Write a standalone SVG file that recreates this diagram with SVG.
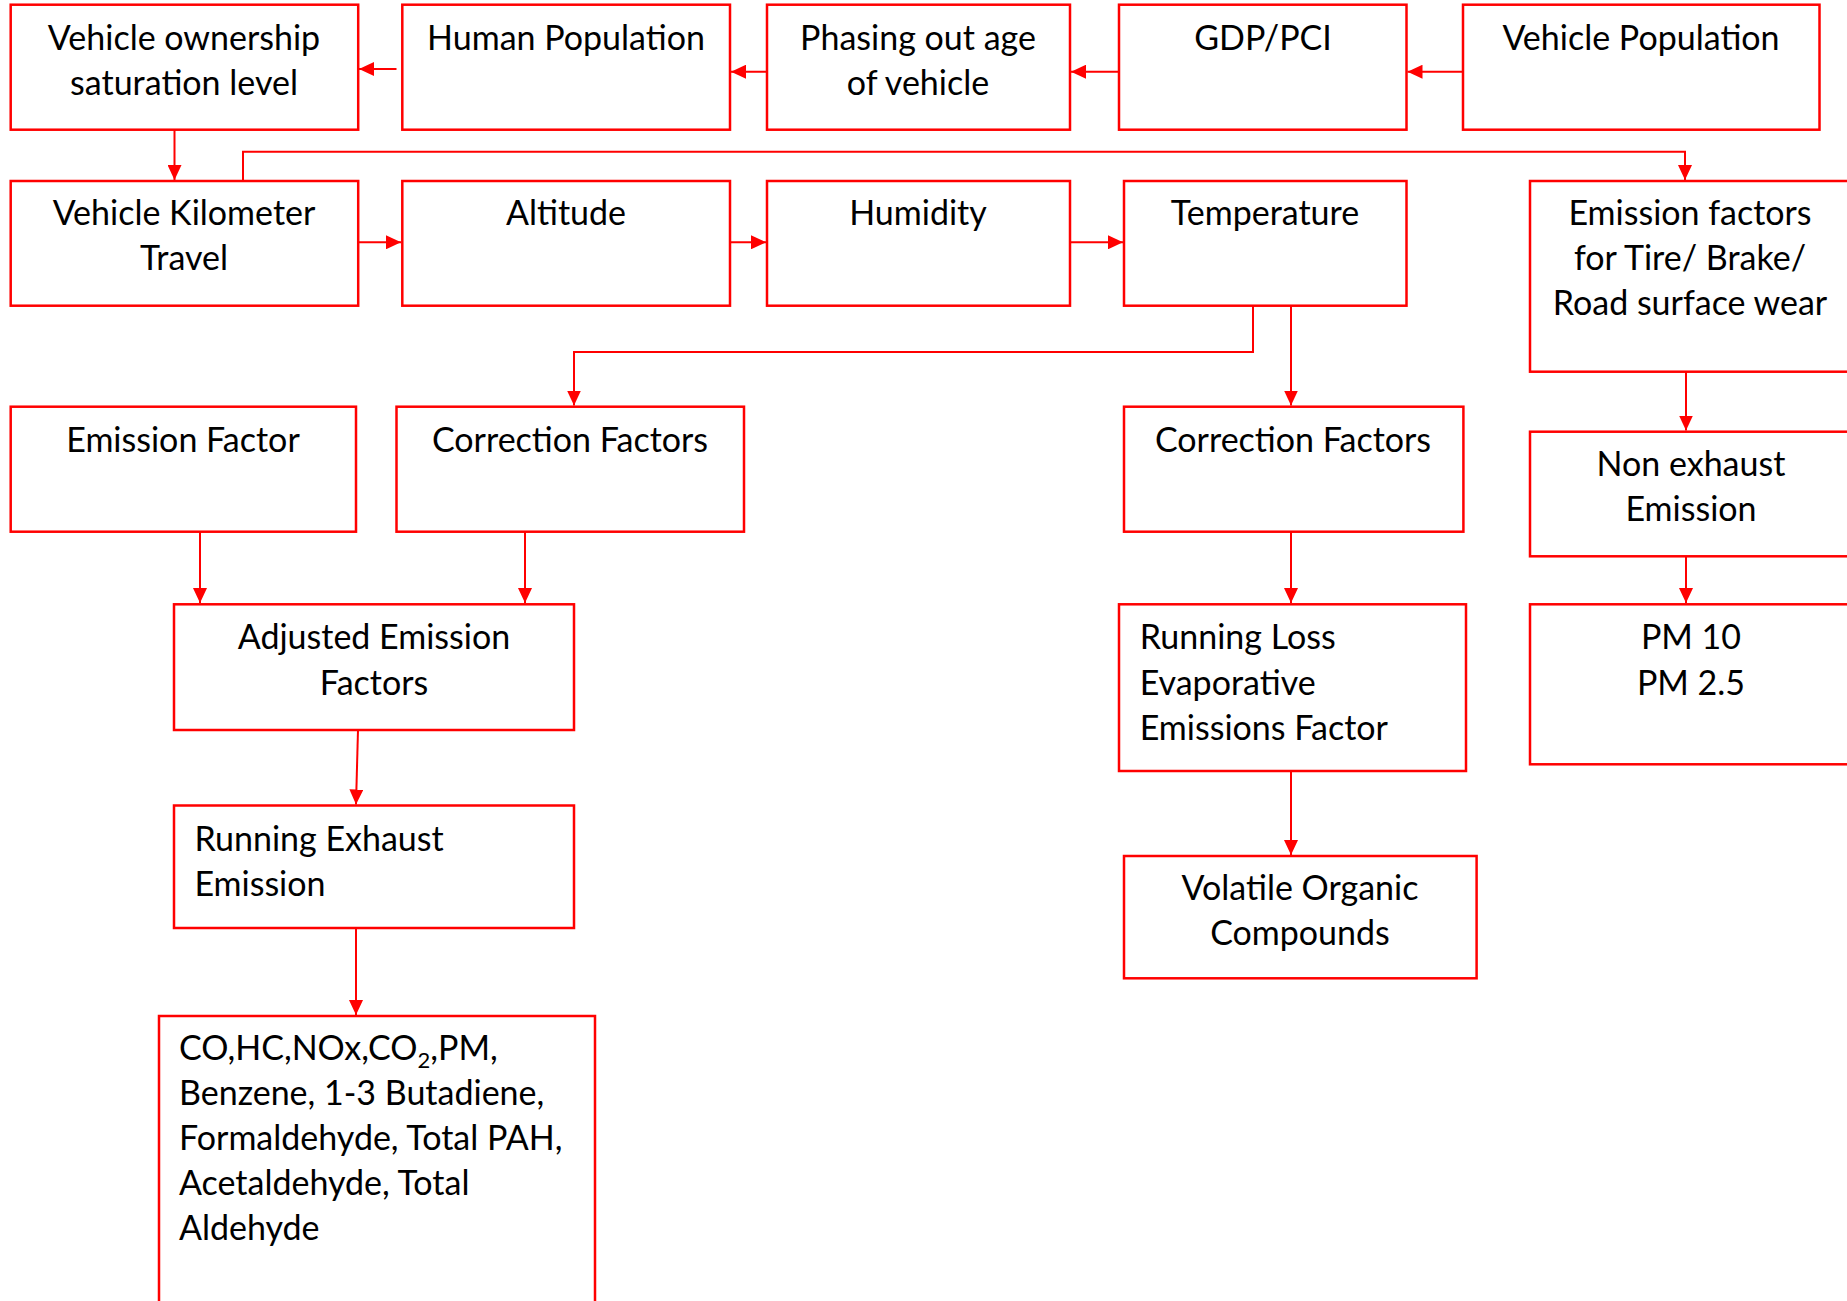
<svg xmlns="http://www.w3.org/2000/svg" width="1847" height="1301" viewBox="0 0 1847 1301">
<style>
.box{fill:#fff;stroke:#ff0000;stroke-width:2.5}
.t{font-family:Lato,"Open Sans",sans-serif;font-size:34px;fill:#000}
.c{text-anchor:middle}
.edge{fill:none;stroke:#ff0000;stroke-width:2;marker-end:url(#ah)}
.plain{fill:none;stroke:#ff0000;stroke-width:2}
</style>
<defs>
<marker id="ah" markerUnits="userSpaceOnUse" markerWidth="16" markerHeight="14" refX="15" refY="7" orient="auto">
<path d="M0,0 L15,7 L0,14 z" fill="#ff0000"/>
</marker>
</defs>
<rect width="1847" height="1301" fill="#fff"/>
<g id="connectors">
<path class="edge" d="M1463,71.7 H1407.5"/>
<path class="edge" d="M1119,71.7 H1071"/>
<path class="edge" d="M767,71.7 H731"/>
<path class="edge" d="M396.5,69 H359"/>
<path class="edge" d="M174.5,130 V180"/>
<path class="edge" d="M243,181 V151.7 H1685 V180"/>
<path class="edge" d="M358,242.3 H401"/>
<path class="edge" d="M730,242.3 H766"/>
<path class="edge" d="M1070,242.3 H1123"/>
<path class="edge" d="M1253,305.7 V352 H574 V405.5"/>
<path class="edge" d="M1291,305.7 V405.5"/>
<path class="edge" d="M1686,371.7 V430.5"/>
<path class="edge" d="M1686,556.3 V603"/>
<path class="edge" d="M1291,531.7 V603"/>
<path class="edge" d="M1291,771 V855"/>
<path class="edge" d="M200,531.7 V603"/>
<path class="edge" d="M525,531.7 V603"/>
<path class="edge" d="M358,730 L356,804.5"/>
<path class="edge" d="M356,928 V1015"/>
</g>
<g id="n_vehown"><rect class="box" x="10.7" y="4.7" width="347.5" height="125"/>
<text class="t c" x="184" y="50">Vehicle ownership</text><text class="t c" x="184" y="95">saturation level</text></g>
<g id="n_humanpop"><rect class="box" x="402.3" y="4.7" width="327.7" height="125"/>
<text class="t c" x="566" y="50">Human Population</text></g>
<g id="n_phasing"><rect class="box" x="767" y="4.7" width="303" height="125"/>
<text class="t c" x="918" y="50">Phasing out age</text><text class="t c" x="918" y="95">of vehicle</text></g>
<g id="n_gdp"><rect class="box" x="1119" y="4.7" width="287.5" height="125"/>
<text class="t c" x="1263" y="50">GDP/PCI</text></g>
<g id="n_vehpop"><rect class="box" x="1463" y="4.7" width="356.5" height="125"/>
<text class="t c" x="1641" y="50">Vehicle Population</text></g>
<g id="n_vkt"><rect class="box" x="10.7" y="181" width="347.5" height="124.7"/>
<text class="t c" x="184" y="225">Vehicle Kilometer</text><text class="t c" x="184" y="270">Travel</text></g>
<g id="n_altitude"><rect class="box" x="402.3" y="181" width="327.7" height="124.7"/>
<text class="t c" x="566" y="225">Altitude</text></g>
<g id="n_humidity"><rect class="box" x="767" y="181" width="303" height="124.7"/>
<text class="t c" x="918" y="225">Humidity</text></g>
<g id="n_temperature"><rect class="box" x="1124" y="181" width="282.5" height="124.7"/>
<text class="t c" x="1265" y="225">Temperature</text></g>
<g id="n_eftire"><rect class="box" x="1530" y="181" width="322" height="190.7"/>
<text class="t c" x="1690" y="225">Emission factors</text><text class="t c" x="1690" y="270">for Tire/ Brake/</text><text class="t c" x="1690" y="315">Road surface wear</text></g>
<g id="n_ef"><rect class="box" x="10.7" y="406.7" width="345.3" height="125"/>
<text class="t c" x="183" y="451.7">Emission Factor</text></g>
<g id="n_cf_left"><rect class="box" x="396.5" y="406.7" width="347.5" height="125"/>
<text class="t c" x="570" y="451.7">Correction Factors</text></g>
<g id="n_cf_right"><rect class="box" x="1124" y="406.7" width="339.4" height="125"/>
<text class="t c" x="1293" y="451.7">Correction Factors</text></g>
<g id="n_nonexh"><rect class="box" x="1530" y="431.7" width="322" height="124.6"/>
<text class="t c" x="1691" y="475.7">Non exhaust</text><text class="t c" x="1691" y="521">Emission</text></g>
<g id="n_adjusted"><rect class="box" x="174" y="604.3" width="400" height="125.7"/>
<text class="t c" x="374" y="649.3">Adjusted Emission</text><text class="t c" x="374" y="695">Factors</text></g>
<g id="n_runloss"><rect class="box" x="1119" y="604.3" width="347" height="166.7"/>
<text class="t" x="1139.7" y="649.3">Running Loss</text><text class="t" x="1139.7" y="695">Evaporative</text><text class="t" x="1139.7" y="740">Emissions Factor</text></g>
<g id="n_pm"><rect class="box" x="1530" y="604.3" width="322" height="160"/>
<text class="t c" x="1691" y="649.3">PM 10</text><text class="t c" x="1691" y="695">PM 2.5</text></g>
<g id="n_runexh"><rect class="box" x="174" y="805.5" width="400" height="122.5"/>
<text class="t" x="194.4" y="851">Running Exhaust</text><text class="t" x="194.4" y="896">Emission</text></g>
<g id="n_voc"><rect class="box" x="1124" y="856" width="352.6" height="122.3"/>
<text class="t c" x="1300" y="900">Volatile Organic</text><text class="t c" x="1300" y="945">Compounds</text></g>
<g id="n_pollutants"><rect class="box" x="159" y="1016" width="436" height="290"/>
<text class="t" x="179" y="1060">CO,HC,NOx,CO<tspan font-size="22" dy="8">2</tspan><tspan dy="-8">,PM,</tspan></text>
<text class="t" x="179" y="1105">Benzene, 1-3 Butadiene,</text>
<text class="t" x="179" y="1150">Formaldehyde, Total PAH,</text>
<text class="t" x="179" y="1195">Acetaldehyde, Total</text>
<text class="t" x="179" y="1240">Aldehyde</text></g>
</svg>
